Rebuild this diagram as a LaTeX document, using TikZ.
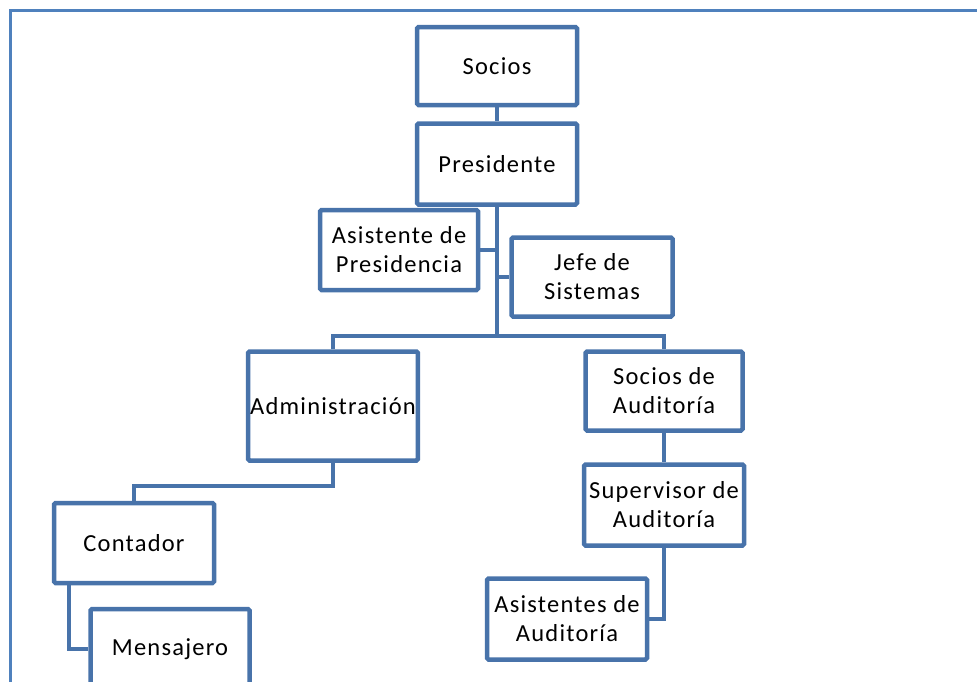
\documentclass[tikz,border=0pt]{standalone}
\usepackage{fontspec}
\setmainfont[LetterSpace=5]{Carlito}
\usepackage{tikz}
\usepackage{xcolor}
\usetikzlibrary{positioning}

\definecolor{cajaazul}{RGB}{72,115,170}
\definecolor{marcoazul}{RGB}{79,129,189}

\begin{document}
\begin{tikzpicture}[x=1pt, y=-1pt,
        caja/.style={rectangle, draw=cajaazul, line width=4.5pt, rounded corners=1.5pt, fill=white, align=center, inner sep=2pt, font=\fontsize{24.5}{29}\selectfont},
        linea/.style={draw=cajaazul, line width=4pt}]
            \useasboundingbox (0, 0) rectangle (977, 681);
            \clip (0, 0) rectangle (977, 681);
            \draw[marcoazul, line width=3pt] (10, 10) rectangle (1000, 720);

            \node[caja, minimum width=160, minimum height=78] (socios) at (497, 66) {Socios};
            \node[caja, minimum width=160, minimum height=81] (presidente) at (497, 164) {Presidente};
            \node[caja, minimum width=158, minimum height=80] (asistpres) at (399, 250) {Asistente de\\Presidencia};
            \node[caja, minimum width=161, minimum height=79] (jefesis) at (592, 277) {Jefe de\\Sistemas};
            \node[caja, minimum width=167, minimum height=109] (admin) at (333, 406) {Administración};
            \node[caja, minimum width=157, minimum height=79] (sociosaud) at (664, 391) {Socios de\\Auditoría};
            \node[caja, minimum width=160, minimum height=81] (superaud) at (664, 505) {Supervisor de\\Auditoría};
            \node[caja, minimum width=160, minimum height=81] (asistaud) at (567, 619) {Asistentes de\\Auditoría};
            \node[caja, minimum width=160, minimum height=80] (contador) at (134, 543) {Contador};
            \node[caja, minimum width=159, minimum height=80] (mensajero) at (170, 649) {Mensajero};
            \coordinate (barra) at (497, 336);

            \draw[linea] (socios) -- (presidente);
            \draw[linea] (presidente.south) -- (barra);
            \draw[linea] (asistpres.east) -- (asistpres.east -| barra);
            \draw[linea] (jefesis.west) -- (jefesis.west -| barra);
            \draw[linea] (admin.north) |- (barra) -| (sociosaud.north);
            \draw[linea] (sociosaud) -- (superaud);
            \draw[linea] (superaud.south) |- (asistaud.east);
            \draw[linea] (admin.south) -- ++(0, 23) -| (contador.north);
            \draw[linea] ([xshift=17pt]contador.south west) |- (mensajero.west);
        \end{tikzpicture}
\end{document}
